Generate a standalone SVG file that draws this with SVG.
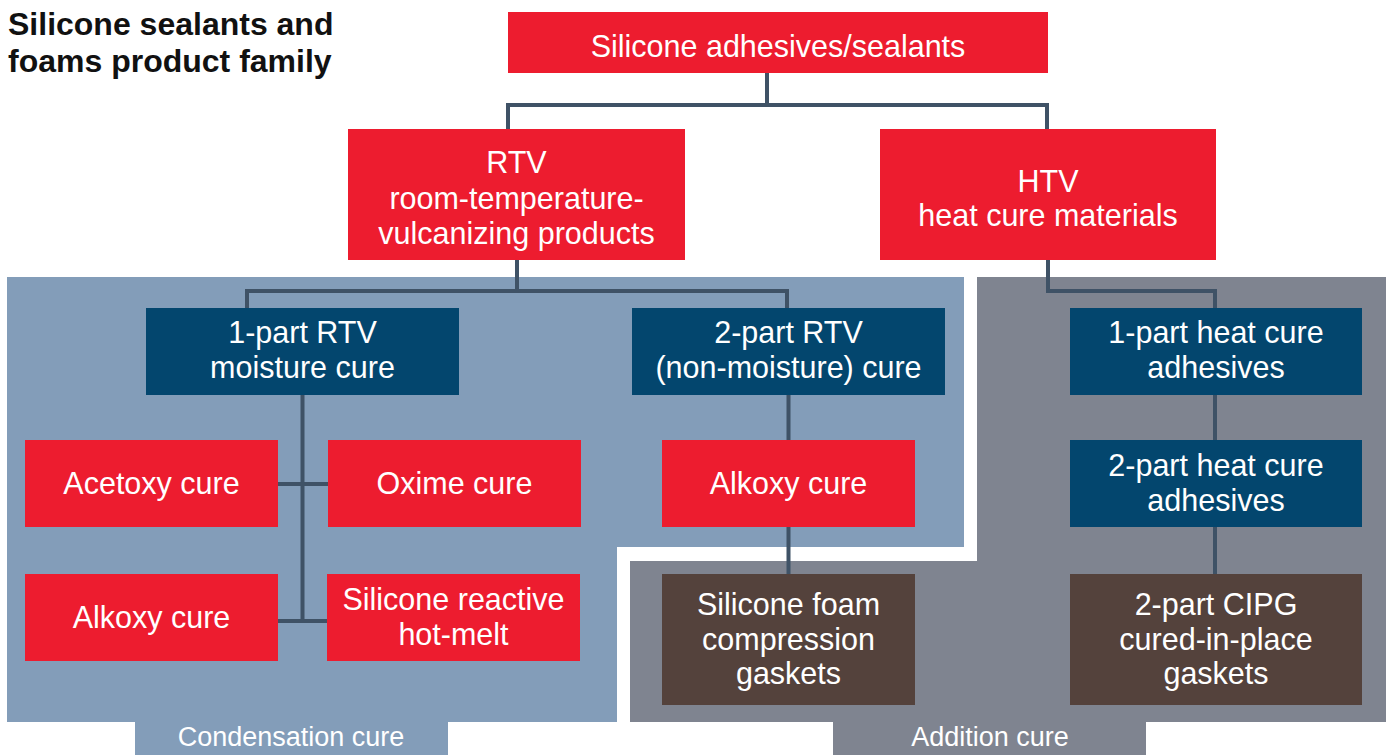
<svg xmlns="http://www.w3.org/2000/svg" width="1387" height="755" viewBox="0 0 1387 755">
<style>
.red{fill:#ED1C2F}
.navy{fill:#03466E}
.brown{fill:#54423C}
.t{font-family:"Liberation Sans",Arial,sans-serif;font-size:30.5px;fill:#fff;text-anchor:middle}
.lab{font-family:"Liberation Sans",Arial,sans-serif;font-size:27px;fill:#fff;text-anchor:middle}
.title{font-family:"Liberation Sans",Arial,sans-serif;font-size:32px;font-weight:bold;fill:#111}
.conn{fill:none;stroke:#3F5266;stroke-width:4}
</style>
<rect width="1387" height="755" fill="#fff"/>
<g id="panel-condensation">
<path d="M7 277 H964 V547 H617 V722 H448 V755 H135 V722 H7 Z" fill="#839DB9"/>
<text class="lab" x="291" y="746">Condensation cure</text>
</g>
<g id="panel-addition">
<path d="M977 277 H1386 V722 H1146 V755 H833 V722 H630 V561 H977 Z" fill="#7F8490"/>
<text class="lab" x="990" y="746">Addition cure</text>
</g>
<g id="title">
<text class="title" x="8" y="35">Silicone sealants and</text>
<text class="title" x="8" y="72">foams product family</text>
</g>
<g id="connectors">
<path class="conn" d="M767 73 V105 M508 129 V105 H1047 V129"/>
<path class="conn" d="M517 260 V291 M247 308 V291 H787 V308"/>
<path class="conn" d="M1048 260 V291 H1215 V308"/>
<path class="conn" d="M302.5 395 V621 M278 484 H328 M278 621 H327"/>
<path class="conn" d="M788.5 395 V440 M788.5 527 V574"/>
<path class="conn" d="M1215 395 V440 M1215 527 V574"/>
</g>
<g id="n-silicone">
<rect class="red" x="508" y="12" width="540" height="61"/>
<text class="t" x="778" y="57">Silicone adhesives/sealants</text>
</g>
<g id="n-rtv">
<rect class="red" x="348" y="129" width="337" height="131"/>
<text class="t" x="516.5" y="173">RTV</text>
<text class="t" x="516.5" y="209">room-temperature-</text>
<text class="t" x="516.5" y="244">vulcanizing products</text>
</g>
<g id="n-htv">
<rect class="red" x="880" y="129" width="336" height="131"/>
<text class="t" x="1048" y="192">HTV</text>
<text class="t" x="1048" y="226">heat cure materials</text>
</g>
<g id="n-1part-rtv">
<rect class="navy" x="146" y="308" width="313" height="87"/>
<text class="t" x="302.5" y="343">1-part RTV</text>
<text class="t" x="302.5" y="378">moisture cure</text>
</g>
<g id="n-2part-rtv">
<rect class="navy" x="632" y="308" width="313" height="87"/>
<text class="t" x="788.5" y="343">2-part RTV</text>
<text class="t" x="788.5" y="378">(non-moisture) cure</text>
</g>
<g id="n-1part-heat">
<rect class="navy" x="1070" y="308" width="292" height="87"/>
<text class="t" x="1216" y="343">1-part heat cure</text>
<text class="t" x="1216" y="378">adhesives</text>
</g>
<g id="n-2part-heat">
<rect class="navy" x="1070" y="440" width="292" height="87"/>
<text class="t" x="1216" y="476">2-part heat cure</text>
<text class="t" x="1216" y="511">adhesives</text>
</g>
<g id="n-acetoxy">
<rect class="red" x="25" y="440" width="253" height="87"/>
<text class="t" x="151.5" y="494">Acetoxy cure</text>
</g>
<g id="n-oxime">
<rect class="red" x="328" y="440" width="253" height="87"/>
<text class="t" x="454.5" y="494">Oxime cure</text>
</g>
<g id="n-alkoxy-left">
<rect class="red" x="25" y="574" width="253" height="87"/>
<text class="t" x="151.5" y="628">Alkoxy cure</text>
</g>
<g id="n-hotmelt">
<rect class="red" x="327" y="574" width="253" height="87"/>
<text class="t" x="453.5" y="610">Silicone reactive</text>
<text class="t" x="453.5" y="645">hot-melt</text>
</g>
<g id="n-alkoxy-right">
<rect class="red" x="662" y="440" width="253" height="87"/>
<text class="t" x="788.5" y="494">Alkoxy cure</text>
</g>
<g id="n-foam">
<rect class="brown" x="662" y="574" width="253" height="131"/>
<text class="t" x="788.5" y="615">Silicone foam</text>
<text class="t" x="788.5" y="650">compression</text>
<text class="t" x="788.5" y="684">gaskets</text>
</g>
<g id="n-cipg">
<rect class="brown" x="1070" y="574" width="292" height="131"/>
<text class="t" x="1216" y="615">2-part CIPG</text>
<text class="t" x="1216" y="650">cured-in-place</text>
<text class="t" x="1216" y="684">gaskets</text>
</g>
</svg>
